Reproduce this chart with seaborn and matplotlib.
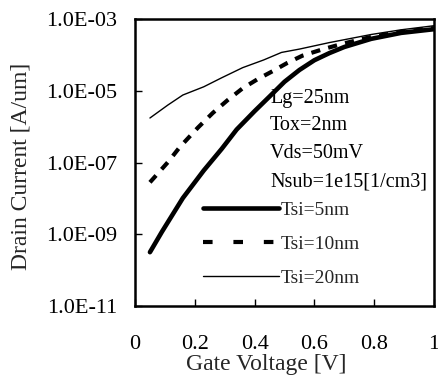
import matplotlib
matplotlib.use("Agg")
import matplotlib.pyplot as plt
import seaborn as sns
import pandas as pd
from matplotlib.ticker import FixedLocator, FixedFormatter, NullLocator

# ---- data ----
vg_5 = [0.05, 0.09, 0.16, 0.23, 0.29, 0.34, 0.40, 0.45, 0.50, 0.55, 0.60, 0.65, 0.70,
        0.79, 0.89, 1.0]
id_5 = [3.16e-10, 1.17e-9, 1.02e-8, 6.0e-8, 2.4e-7, 8.3e-7, 2.7e-6, 6.9e-6, 1.78e-5,
        3.8e-5, 7.1e-5, 1.12e-4, 1.66e-4, 2.8e-4, 4.1e-4, 5.2e-4]
vg_10 = [0.05, 0.11, 0.15, 0.21, 0.26, 0.31, 0.36, 0.41, 0.46, 0.51, 0.56, 0.63, 0.70,
         0.79, 0.89, 1.0]
id_10 = [2.8e-8, 1.02e-7, 2.7e-7, 9.3e-7, 2.4e-6, 5.5e-6, 1.17e-5, 2.1e-5, 3.5e-5,
         6.0e-5, 9.5e-5, 1.45e-4, 2.1e-4, 3.16e-4, 4.4e-4, 5.6e-4]
vg_20 = [0.05, 0.11, 0.16, 0.23, 0.29, 0.36, 0.43, 0.49, 0.55, 0.65, 0.79, 0.89, 1.0]
id_20 = [1.74e-6, 4.0e-6, 7.6e-6, 1.29e-5, 2.3e-5, 4.4e-5, 7.2e-5, 1.17e-4, 1.45e-4,
         2.2e-4, 3.7e-4, 5.0e-4, 6.5e-4]
series_labels = ["Tsi=5nm", "Tsi=10nm", "Tsi=20nm"]
x_ticks = [0, 0.2, 0.4, 0.6, 0.8, 1.0]
x_tick_labels = ["0", "0.2", "0.4", "0.6", "0.8", "1"]
y_ticks = [1e-11, 1e-9, 1e-7, 1e-5, 1e-3]
y_tick_labels = ["1.0E-11", "1.0E-09", "1.0E-07", "1.0E-05", "1.0E-03"]
annot_lines = ["Lg=25nm", "Tox=2nm", "Vds=50mV", "Nsub=1e15[1/cm3]"]
x_label = "Gate Voltage [V]"
y_label = "Drain Current [A/um]"

sns.set_style("ticks")
plt.rcParams["font.family"] = ["Liberation Serif", "DejaVu Serif"]

fig = plt.figure(figsize=(4.39, 3.84), dpi=100)
ax = fig.add_axes([135 / 439, 1 - 306 / 384, 299 / 439, 287 / 384])

df5 = pd.DataFrame({"x": vg_5, "y": id_5})
df10 = pd.DataFrame({"x": vg_10, "y": id_10})
df20 = pd.DataFrame({"x": vg_20, "y": id_20})

sns.lineplot(data=df5, x="x", y="y", ax=ax, color="black", linewidth=3.3,
             label=series_labels[0], estimator=None, sort=True)
sns.lineplot(data=df10, x="x", y="y", ax=ax, color="black", linewidth=3.0,
             label=series_labels[1], estimator=None, sort=True)
sns.lineplot(data=df20, x="x", y="y", ax=ax, color="black", linewidth=1.0,
             label=series_labels[2], estimator=None, sort=True)
lines = ax.get_lines()
lines[0].set_solid_joinstyle("round")
lines[1].set_dashes([2.2, 2.0])
lines[1].set_dash_capstyle("butt")

ax.set_yscale("log")
ax.set_xlim(0, 1)
ax.set_ylim(1e-11, 1e-3)

ax.xaxis.set_major_locator(FixedLocator(x_ticks))
ax.xaxis.set_major_formatter(FixedFormatter(x_tick_labels))
ax.yaxis.set_major_locator(FixedLocator(y_ticks))
ax.yaxis.set_major_formatter(FixedFormatter(y_tick_labels))
ax.xaxis.set_minor_locator(NullLocator())
ax.yaxis.set_minor_locator(NullLocator())

ax.tick_params(axis="both", direction="in", length=5, width=1.0, labelsize=16,
               colors="black")
ax.tick_params(axis="x", pad=21)
ax.tick_params(axis="y", pad=13)

for s in ax.spines.values():
    s.set_linewidth(1.8)
    s.set_color("black")
    s.set_visible(True)

ax.set_xlabel(x_label, fontsize=17)
ax.set_ylabel(y_label, fontsize=17)
ax.xaxis.set_label_coords((266 - 135) / 299, -(354 - 306) / 287)
ax.yaxis.set_label_coords((31 - 135) / 299, (306 - 166) / 287)

for i, t in enumerate(annot_lines):
    ax.text((270 - 135) / 299, (306 - (98 + 28 * i)) / 287, t, transform=ax.transAxes,
            fontsize=14.5, va="center", ha="left", color="black")

leg = ax.legend(loc="center left", bbox_to_anchor=((203 - 135) / 299, (306 - 244) / 287),
                frameon=False, fontsize=14, handlelength=3.9, handletextpad=0.1,
                labelspacing=0.85, borderpad=0, borderaxespad=0)
leg_lines = leg.get_lines()
for h in leg_lines:
    h.set_color("black")
leg_lines[1].set_dashes([2.3, 5.0])
leg_lines[1].set_dash_capstyle("butt")

fig.savefig("out.png", dpi=100, facecolor="white")
